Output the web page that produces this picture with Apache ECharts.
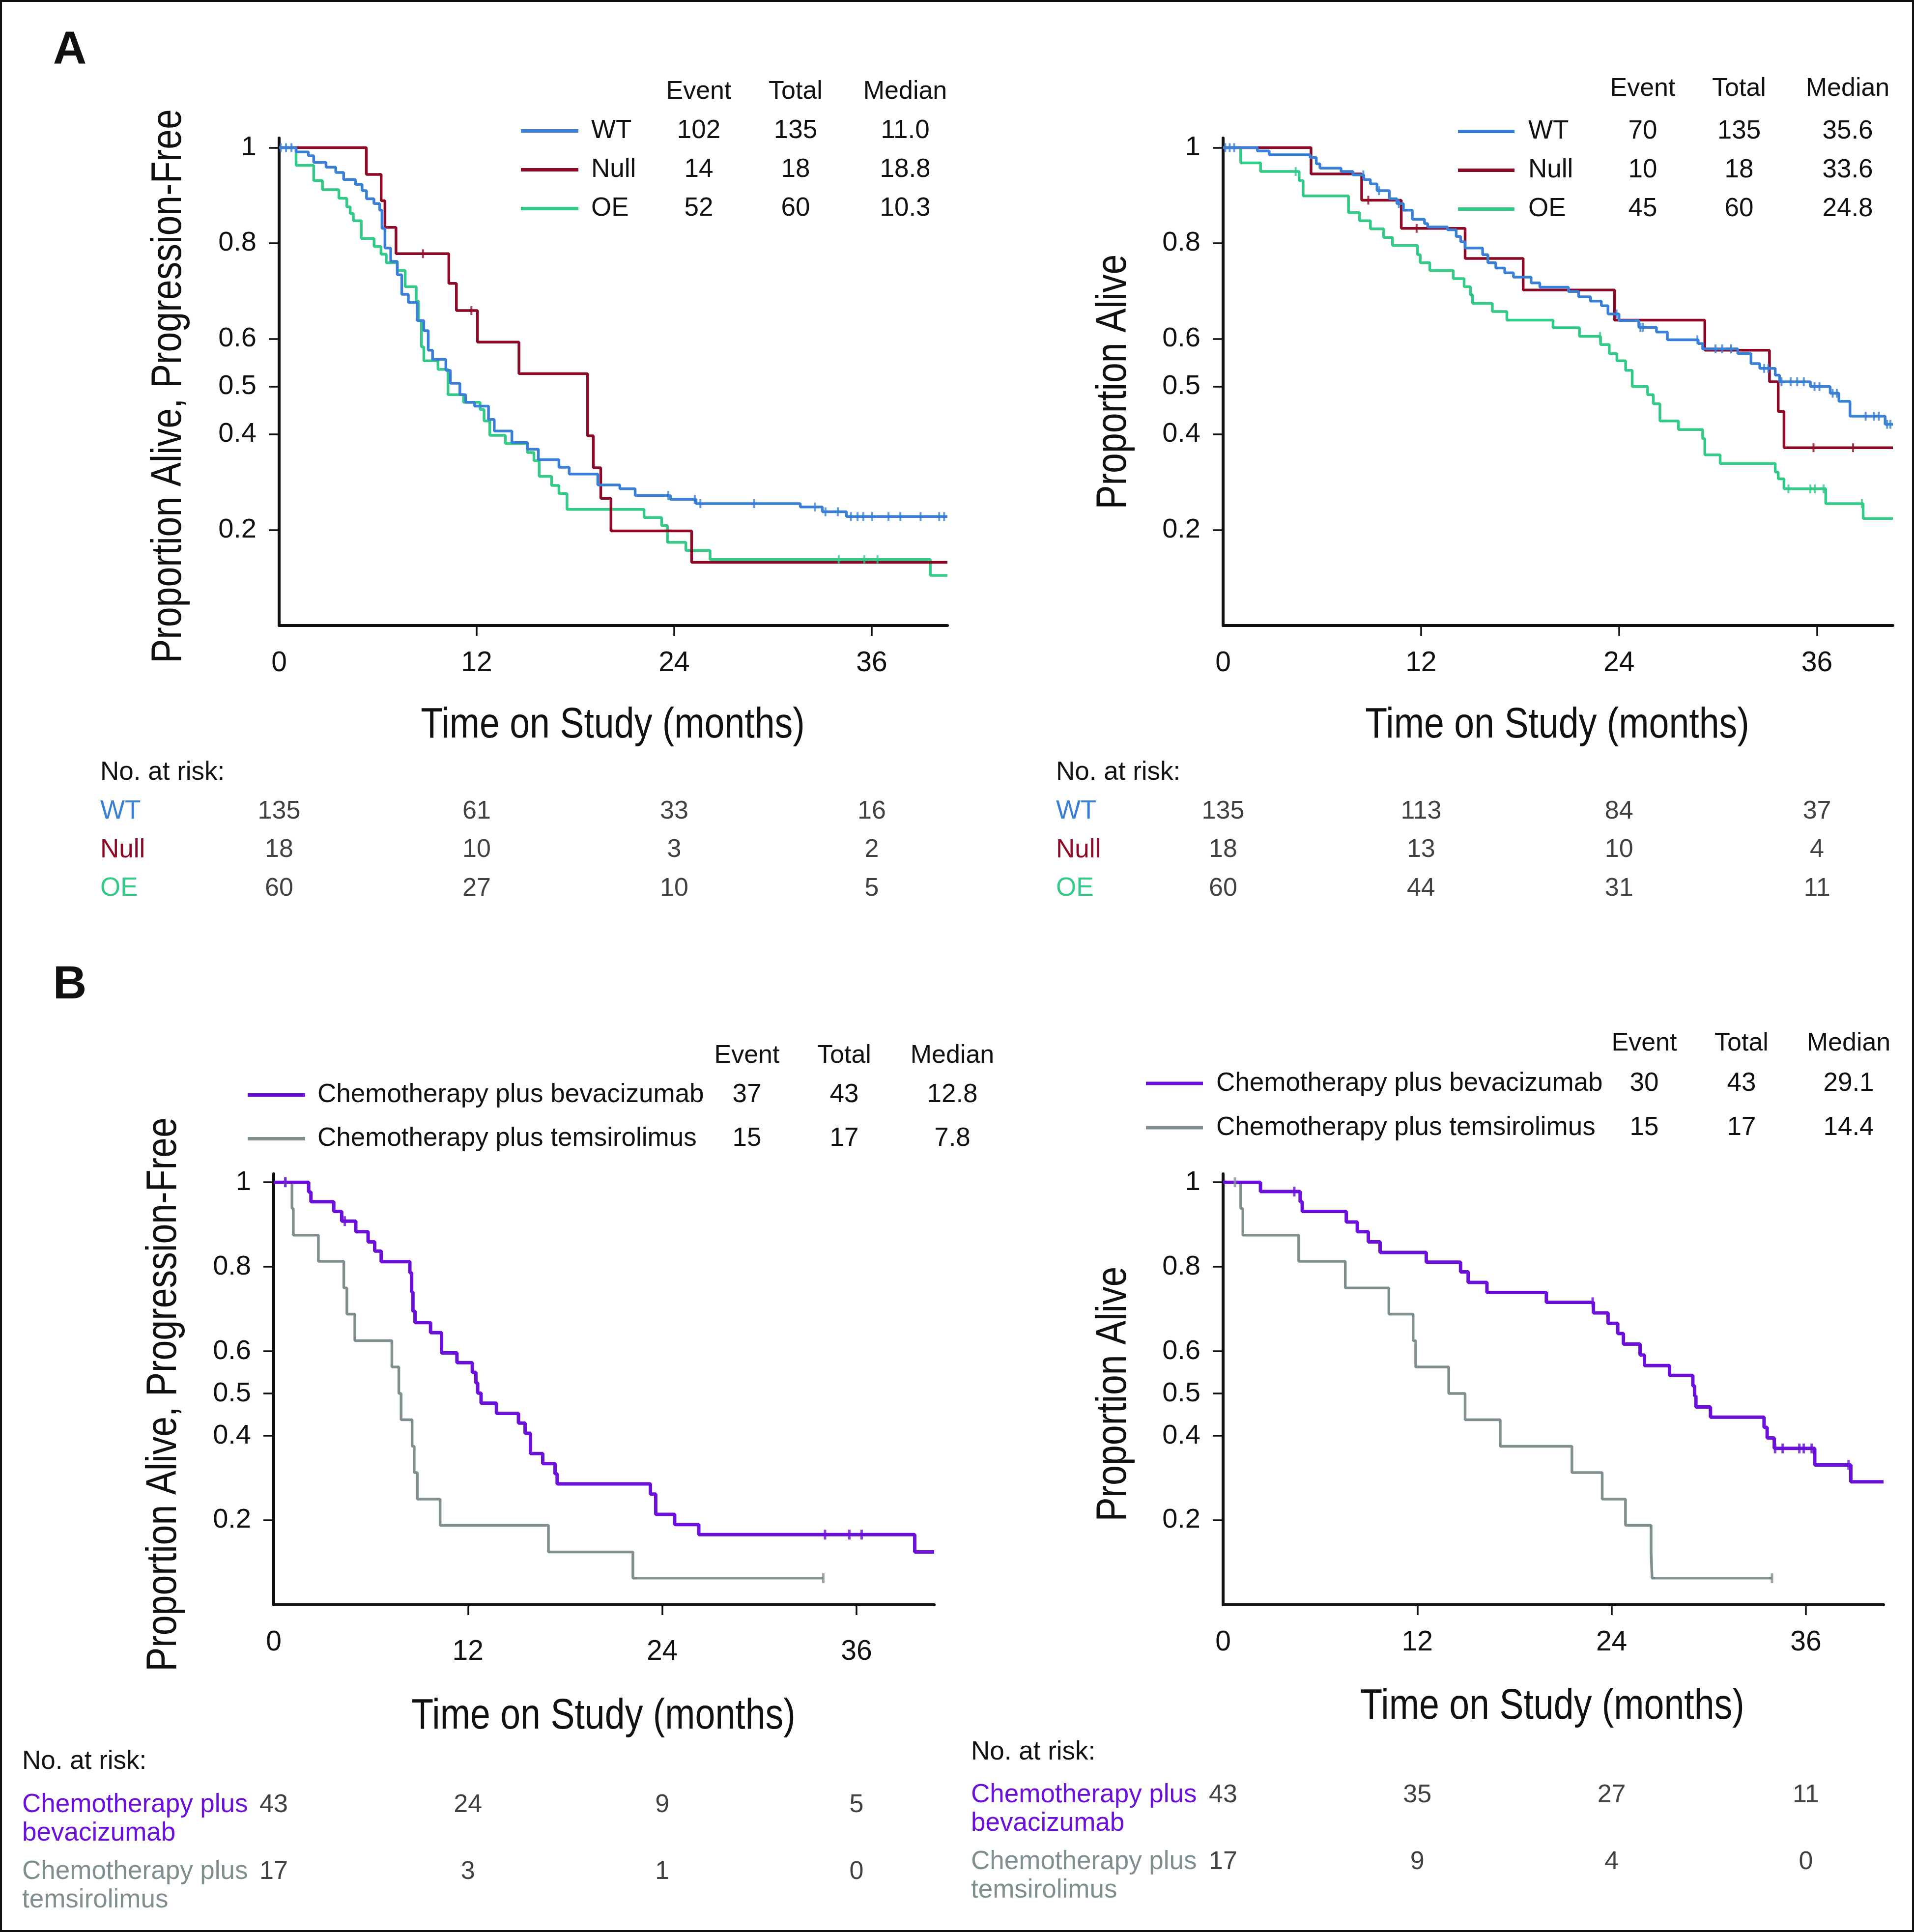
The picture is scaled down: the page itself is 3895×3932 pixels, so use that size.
<!DOCTYPE html>
<html><head><meta charset="utf-8">
<script src="https://cdn.jsdelivr.net/npm/echarts@6/dist/echarts.min.js"></script>
<style>html,body{margin:0;padding:0;background:#fff}#c{width:3895px;height:3932px}</style>
</head><body><div id="c"></div>
<script>
// ================= DATA =================
const xTicks = [0, 12, 24, 36];
const yTicks = [0.2, 0.4, 0.5, 0.6, 0.8, 1];
const riskTimes = [0, 12, 24, 36];
const xTitle = 'Time on Study (months)';
const yTitlePfs = 'Proportion Alive, Progression-Free';
const yTitleOs = 'Proportion Alive';

// ---- Panel A : groups ----
const groupNames = ['WT', 'Null', 'OE'];
const pfsEvents = [102, 14, 52];
const pfsTotals = [135, 18, 60];
const pfsMedians = ['11.0', '18.8', '10.3'];
const osEvents = [70, 10, 45];
const osTotals = [135, 18, 60];
const osMedians = ['35.6', '33.6', '24.8'];

// PFS curves [month, proportion]
const wtPfs = [[0,1],[1.03,0.991],[1.78,0.983],[2.1,0.969],[2.85,0.959],[3.44,0.948],[3.92,0.933],[4.64,0.923],[5.04,0.910],[5.31,0.893],[5.76,0.883],[6.11,0.869],[6.25,0.831],[6.43,0.790],[6.78,0.762],[7.18,0.734],[7.45,0.693],[7.85,0.676],[8.39,0.638],[8.79,0.617],[9.06,0.576],[9.32,0.557],[10.13,0.534],[10.4,0.507],[10.98,0.483],[11.33,0.467],[11.87,0.459],[12.72,0.431],[13.07,0.407],[14.14,0.383],[15.08,0.369],[15.75,0.347],[17.0,0.331],[17.62,0.317],[19.36,0.294],[20.7,0.286],[21.63,0.272],[23.77,0.264],[25.33,0.255],[31.66,0.248],[33.0,0.238],[34.47,0.228],[40.6,0.228]];
const wtPfsCensor = [0.1,0.42,0.75,23.64,25.25,25.59,28.85,32.55,33.19,33.94,34.74,35.14,35.49,36.03,37.02,37.74,38.97,40.1,40.4];
const nullPfs = [[0,1],[5.3,0.944],[6.2,0.889],[6.43,0.833],[7.1,0.778],[10.31,0.716],[10.77,0.659],[12.05,0.593],[14.57,0.527],[18.74,0.397],[19.09,0.330],[19.54,0.266],[20.16,0.198],[25.06,0.132],[40.6,0.132]];
const nullPfsCensor = [8.74, 11.68];
const oePfs = [[0,1],[1.03,0.963],[2.1,0.931],[2.63,0.912],[3.63,0.894],[4.11,0.876],[4.32,0.862],[4.51,0.847],[4.99,0.810],[5.77,0.793],[6.19,0.777],[6.51,0.759],[7.18,0.743],[7.66,0.709],[8.33,0.679],[8.47,0.638],[8.65,0.583],[8.79,0.554],[9.65,0.536],[10.26,0.483],[11.2,0.467],[12.21,0.452],[12.45,0.428],[12.8,0.398],[13.74,0.381],[15.08,0.362],[15.48,0.345],[15.8,0.312],[16.55,0.293],[17.0,0.276],[17.49,0.243],[22.17,0.226],[23.24,0.209],[23.59,0.174],[24.71,0.157],[26.18,0.138],[39.56,0.105],[40.6,0.105]];
const oePfsCensor = [34.0, 35.55, 36.35];

// OS curves
const wtOs = [[0,1],[2.08,0.993],[2.8,0.985],[5.28,0.979],[5.65,0.966],[5.87,0.957],[7.15,0.950],[7.87,0.943],[8.53,0.933],[8.93,0.924],[9.33,0.910],[10.08,0.893],[10.53,0.883],[10.93,0.869],[11.47,0.850],[12.21,0.841],[12.4,0.834],[13.6,0.828],[14.13,0.814],[14.4,0.803],[14.67,0.790],[15.73,0.776],[16.05,0.759],[16.53,0.748],[17.07,0.738],[17.6,0.729],[18.67,0.717],[19.2,0.708],[20.93,0.699],[21.55,0.688],[22.27,0.679],[22.93,0.669],[23.33,0.652],[24.0,0.638],[25.2,0.624],[26.27,0.614],[26.93,0.598],[28.8,0.590],[29.07,0.579],[31.2,0.569],[32.0,0.548],[32.53,0.538],[33.47,0.524],[33.73,0.510],[35.6,0.500],[36.8,0.486],[37.33,0.469],[38.0,0.438],[40.13,0.421],[40.6,0.421]];
const wtOsCensor = [0.13,0.4,0.67,8.5,9.45,10.65,23.85,25.3,25.45,28.75,29.85,30.25,30.8,32.8,33.05,33.85,34.4,34.8,35.2,35.85,36.15,36.95,37.2,38.95,39.45,39.75,40.25,40.45];
const nullOs = [[0,1],[5.33,0.945],[8.4,0.890],[10.8,0.831],[14.67,0.768],[18.19,0.702],[23.73,0.639],[29.2,0.576],[33.12,0.510],[33.65,0.448],[34.0,0.372],[40.6,0.372]];
const nullOsCensor = [8.8, 11.73, 35.79, 38.19];
const oeOs = [[0,1],[1.07,0.968],[2.27,0.950],[4.61,0.931],[4.85,0.899],[7.6,0.864],[8.27,0.847],[8.93,0.830],[9.73,0.812],[10.27,0.795],[11.79,0.776],[11.95,0.759],[12.53,0.743],[13.95,0.726],[14.61,0.709],[14.99,0.692],[15.12,0.674],[16.32,0.657],[17.2,0.639],[20.0,0.623],[21.6,0.605],[22.88,0.588],[23.41,0.569],[23.87,0.554],[24.4,0.534],[24.8,0.500],[25.73,0.483],[26.08,0.464],[26.48,0.428],[27.6,0.410],[29.07,0.391],[29.2,0.357],[30.13,0.339],[33.47,0.321],[33.65,0.307],[34.0,0.286],[36.53,0.255],[38.8,0.224],[40.6,0.224]];
const oeOsCensor = [4.4, 22.85, 34.27, 35.6, 35.87, 36.4, 38.72];

// number at risk, panel A
const wtPfsRisk = [135, 61, 33, 16];
const nullPfsRisk = [18, 10, 3, 2];
const oePfsRisk = [60, 27, 10, 5];
const wtOsRisk = [135, 113, 84, 37];
const nullOsRisk = [18, 13, 10, 4];
const oeOsRisk = [60, 44, 31, 11];

// ---- Panel B : treatment arms ----
const armNames = ['Chemotherapy plus bevacizumab', 'Chemotherapy plus temsirolimus'];
const armRiskLabels = ['Chemotherapy plus\nbevacizumab', 'Chemotherapy plus\ntemsirolimus'];
const armPfsEvents = [37, 15];
const armPfsTotals = [43, 17];
const armPfsMedians = ['12.8', '7.8'];
const armOsEvents = [30, 15];
const armOsTotals = [43, 17];
const armOsMedians = ['29.1', '14.4'];

const bevPfs = [[0,1],[2.16,0.977],[2.3,0.954],[3.71,0.931],[4.2,0.908],[5.07,0.883],[5.83,0.859],[6.24,0.837],[6.64,0.812],[8.41,0.786],[8.52,0.740],[8.6,0.695],[8.73,0.668],[9.69,0.644],[10.37,0.596],[11.32,0.573],[12.27,0.550],[12.49,0.525],[12.6,0.501],[12.81,0.477],[13.76,0.453],[15.12,0.430],[15.53,0.406],[15.86,0.358],[16.62,0.334],[17.38,0.310],[17.51,0.286],[23.27,0.262],[23.6,0.214],[24.77,0.190],[26.26,0.166],[39.6,0.125],[40.8,0.125]];
const bevPfsCensor = [0.72, 4.39, 34.06, 35.56, 36.32];
const temPfs = [[0,1],[1.13,0.938],[1.21,0.875],[2.76,0.813],[4.33,0.75],[4.52,0.688],[5.01,0.625],[7.3,0.563],[7.73,0.5],[7.87,0.438],[8.55,0.375],[8.68,0.313],[8.87,0.25],[10.28,0.188],[16.97,0.125],[22.19,0.063],[33.95,0.063]];
const temPfsCensor = [0.72, 33.95];
const bevOs = [[0,1],[2.31,0.978],[4.76,0.954],[4.89,0.931],[7.61,0.906],[8.29,0.883],[8.97,0.859],[9.7,0.834],[12.55,0.811],[14.67,0.788],[15.14,0.763],[16.3,0.739],[19.97,0.716],[22.88,0.691],[23.78,0.666],[24.38,0.642],[24.73,0.617],[25.76,0.591],[26.03,0.566],[27.58,0.543],[29.02,0.518],[29.13,0.494],[29.21,0.468],[30.11,0.444],[33.42,0.420],[33.61,0.395],[34.05,0.370],[36.55,0.331],[38.78,0.291],[40.8,0.291]];
const bevOsCensor = [4.4, 22.83, 34.1, 34.57, 35.6, 35.87, 36.36, 38.64];
const temOs = [[0,1],[1.09,0.938],[1.22,0.875],[4.67,0.813],[7.55,0.75],[10.24,0.688],[11.74,0.625],[11.9,0.563],[13.94,0.5],[14.95,0.438],[17.12,0.375],[21.55,0.313],[23.42,0.25],[24.86,0.188],[26.44,0.125],[26.5,0.063],[33.91,0.063]];
const temOsCensor = [0.73, 33.91];

const bevPfsRisk = [43, 24, 9, 5];
const temPfsRisk = [17, 3, 1, 0];
const bevOsRisk = [43, 35, 27, 11];
const temOsRisk = [17, 9, 4, 0];

// ================= STYLE / LAYOUT =================
const SANS = '"Liberation Sans", Arial, Helvetica, sans-serif';
const INK = '#111111';
const COL = { WT: '#3a7fd6', Null: '#8c0a26', OE: '#33c987', bev: '#6b10d8', tem: '#7f8f8f' };
const NARROW_SCALE = 0.845;   // condensed look for axis titles
const TXT = 53;

const grids = [
  { left: 568,  top: 281,  width: 1360, height: 992 },  // 0 A PFS
  { left: 2489, top: 281,  width: 1363, height: 992 },  // 1 A OS
  { left: 557,  top: 2389, width: 1344, height: 877 },  // 2 B PFS
  { left: 2489, top: 2389, width: 1344, height: 877 },  // 3 B OS
  { left: 568,  top: 1612, width: 1360, height: 236 },  // 4 risk A PFS
  { left: 2489, top: 1612, width: 1363, height: 236 },  // 5 risk A OS
  { left: 557,  top: 3635, width: 1344, height: 271 },  // 6 risk B PFS
  { left: 2489, top: 3615, width: 1344, height: 271 }   // 7 risk B OS
];
const xMax = [40.6, 40.6, 40.8, 40.8];

function survAt(curve, t) {
  let s = curve[0][1];
  for (const p of curve) { if (p[0] <= t) s = p[1]; else break; }
  return s;
}

function plotX(i, quirk) {
  const lab = { customValues: xTicks, margin: 49, fontSize: 57, fontFamily: SANS, color: INK };
  if (quirk) {
    lab.formatter = v => (v === 0 ? '{z|0}' : '{d|' + v + '}');
    lab.rich = { z: { fontSize: 57, fontFamily: SANS, color: INK, lineHeight: 57 },
                 d: { fontSize: 57, fontFamily: SANS, color: INK, lineHeight: 95 } };
  }
  return {
    type: 'value', gridIndex: i, min: 0, max: xMax[i], interval: 12,
    axisLine: { show: true, onZero: true, lineStyle: { color: INK, width: 6 } },
    axisTick: { show: true, customValues: [12, 24, 36], length: 21, lineStyle: { color: INK, width: 3.5 } },
    axisLabel: lab,
    splitLine: { show: false }
  };
}
function plotY(i) {
  return {
    type: 'value', gridIndex: i, min: 0, max: 1.02, interval: 0.1,
    axisLine: { show: true, onZero: false, lineStyle: { color: INK, width: 6 } },
    axisTick: { show: true, customValues: yTicks, length: 21, lineStyle: { color: INK, width: 3.5 } },
    axisLabel: { customValues: yTicks, margin: 46, fontSize: 56, fontFamily: SANS, color: INK,
                 formatter: v => (v === 1 ? '1' : v.toFixed(1)) },
    splitLine: { show: false }
  };
}
function riskX(i, m) { return { type: 'value', gridIndex: i, min: 0, max: m, show: false }; }
function riskY(i, cats, colors, margin, lh) {
  return {
    type: 'category', gridIndex: i, data: cats, inverse: true,
    axisLine: { show: false }, axisTick: { show: false }, splitLine: { show: false },
    axisLabel: { show: true, align: 'left', margin: margin, fontSize: TXT, fontFamily: SANS,
                 lineHeight: lh, color: (v, idx) => colors[idx] }
  };
}
function km(name, curve, color, width, gi) {
  return { type: 'line', name: name, xAxisIndex: gi, yAxisIndex: gi, step: 'end', symbol: 'none',
           data: curve, lineStyle: { color: color, width: width }, itemStyle: { color: color },
           animation: false, silent: true, z: 3 };
}
function cens(name, curve, times, color, gi, size) {
  return { type: 'scatter', name: name + ' censored', xAxisIndex: gi, yAxisIndex: gi, symbol: 'rect',
           symbolSize: size, data: times.map(t => [t, survAt(curve, t)]), itemStyle: { color: color },
           animation: false, silent: true, z: 4 };
}
function risk(name, gi, row, counts, dy) {
  return { type: 'scatter', name: name + ' at risk', xAxisIndex: gi, yAxisIndex: gi, symbolSize: 1,
           itemStyle: { color: 'rgba(0,0,0,0)' }, animation: false, silent: true,
           data: riskTimes.map((t, k) => [t, row, counts[k]]),
           label: { show: true, position: 'inside', offset: [0, dy], formatter: p => String(p.value[2]),
                    fontSize: 52, fontFamily: SANS, color: INK } };
}
function legendBox(names, ev, tot, med, left, top, iw, pad, nw, ew, tw, mw, lh) {
  const base = { fontSize: TXT, fontFamily: SANS, color: INK, lineHeight: lh };
  return {
    data: names, orient: 'vertical', left: left, top: top, padding: 0,
    itemWidth: iw, itemHeight: 7, itemGap: 0, icon: 'rect', selectedMode: false,
    formatter: n => { const k = names.indexOf(n); return '{n|' + n + '}{e|' + ev[k] + '}{t|' + tot[k] + '}{m|' + med[k] + '}'; },
    textStyle: Object.assign({}, base, { rich: {
      n: Object.assign({}, base, { width: nw, padding: [0, 0, 0, pad], align: 'left' }),
      e: Object.assign({}, base, { width: ew, align: 'center' }),
      t: Object.assign({}, base, { width: tw, align: 'center' }),
      m: Object.assign({}, base, { width: mw, align: 'center' }) } })
  };
}
function txt(text, x, y, extra) {
  return { type: 'text', x: x, y: y, silent: true,
           style: Object.assign({ text: text, fontSize: 52, fontFamily: SANS, fill: INK,
                                  align: 'center', verticalAlign: 'middle' }, extra || {}) };
}
function title(text, x, y, vertical) {
  return { type: 'text', x: x, y: y, silent: true, scaleX: NARROW_SCALE,
           rotation: vertical ? Math.PI / 2 : 0,
           style: { text: text, fontSize: 87, fontFamily: SANS, fill: INK, align: 'center', verticalAlign: 'middle' } };
}

const groupColors = [COL.WT, COL.Null, COL.OE];
const armColors = [COL.bev, COL.tem];

const option = {
  backgroundColor: '#ffffff',
  animation: false,
  grid: grids,
  xAxis: [plotX(0), plotX(1), plotX(2, true), plotX(3),
          riskX(4, xMax[0]), riskX(5, xMax[1]), riskX(6, xMax[2]), riskX(7, xMax[3])],
  yAxis: [plotY(0), plotY(1), plotY(2), plotY(3),
          riskY(4, groupNames, groupColors, 364, 58), riskY(5, groupNames, groupColors, 340, 58),
          riskY(6, armRiskLabels, armColors, 512, 58), riskY(7, armRiskLabels, armColors, 513, 58)],
  legend: [
    legendBox(groupNames, pfsEvents, pfsTotals, pfsMedians, 1060, 227, 117, 21, 144, 150, 244, 202, 79),
    legendBox(groupNames, osEvents, osTotals, osMedians, 2967, 228, 115, 23, 158, 150, 242, 200, 79),
    legendBox(armNames, armPfsEvents, armPfsTotals, armPfsMedians, 504, 2184, 117, 20, 799, 150, 246, 194, 89),
    legendBox(armNames, armOsEvents, armOsTotals, armOsMedians, 2332, 2160, 116, 22, 796, 150, 246, 190, 90)
  ],
  series: [
    km('OE', oePfs, COL.OE, 5.5, 0), km('Null', nullPfs, COL.Null, 5.5, 0), km('WT', wtPfs, COL.WT, 5.5, 0),
    cens('OE', oePfs, oePfsCensor, COL.OE, 0, [4, 18]), cens('Null', nullPfs, nullPfsCensor, COL.Null, 0, [4, 18]),
    cens('WT', wtPfs, wtPfsCensor, COL.WT, 0, [4, 18]),
    km('OE', oeOs, COL.OE, 5.5, 1), km('Null', nullOs, COL.Null, 5.5, 1), km('WT', wtOs, COL.WT, 5.5, 1),
    cens('OE', oeOs, oeOsCensor, COL.OE, 1, [4, 18]), cens('Null', nullOs, nullOsCensor, COL.Null, 1, [4, 18]),
    cens('WT', wtOs, wtOsCensor, COL.WT, 1, [4, 18]),
    km(armNames[1], temPfs, COL.tem, 5.5, 2), km(armNames[0], bevPfs, COL.bev, 7, 2),
    cens(armNames[1], temPfs, temPfsCensor, COL.tem, 2, [5, 20]), cens(armNames[0], bevPfs, bevPfsCensor, COL.bev, 2, [5, 20]),
    km(armNames[1], temOs, COL.tem, 5.5, 3), km(armNames[0], bevOs, COL.bev, 7, 3),
    cens(armNames[1], temOs, temOsCensor, COL.tem, 3, [5, 20]), cens(armNames[0], bevOs, bevOsCensor, COL.bev, 3, [5, 20]),
    risk('WT pfs', 4, 0, wtPfsRisk, 0), risk('Null pfs', 4, 1, nullPfsRisk, 0), risk('OE pfs', 4, 2, oePfsRisk, 0),
    risk('WT os', 5, 0, wtOsRisk, 0), risk('Null os', 5, 1, nullOsRisk, 0), risk('OE os', 5, 2, oeOsRisk, 0),
    risk('bev pfs', 6, 0, bevPfsRisk, -29), risk('tem pfs', 6, 1, temPfsRisk, -29),
    risk('bev os', 7, 0, bevOsRisk, -29), risk('tem os', 7, 1, temOsRisk, -29)
  ],
  graphic: { elements: [
    { type: 'rect', silent: true, shape: { x: 2, y: 2, width: 3891, height: 3928 },
      style: { fill: 'none', stroke: INK, lineWidth: 4 } },
    txt('A', 142, 104, { fontSize: 95, fontWeight: 'bold' }),
    txt('B', 142, 2006, { fontSize: 95, fontWeight: 'bold' }),
    title(xTitle, 1247, 1477), title(xTitle, 3169, 1477),
    title(xTitle, 1228, 3494), title(xTitle, 3159, 3474),
    title(yTitlePfs, 344, 786, true), title(yTitleOs, 2267, 777, true),
    title(yTitlePfs, 334, 2838, true), title(yTitleOs, 2267, 2837, true),
    txt('Event', 1422, 187), txt('Total', 1619, 187), txt('Median', 1842, 187),
    txt('Event', 3343, 181), txt('Total', 3539, 181), txt('Median', 3760, 181),
    txt('Event', 1520, 2149), txt('Total', 1718, 2149), txt('Median', 1938, 2149),
    txt('Event', 3346, 2124), txt('Total', 3544, 2124), txt('Median', 3762, 2124),
    txt('No. at risk:', 204, 1572, { align: 'left', fontSize: TXT }),
    txt('No. at risk:', 2149, 1572, { align: 'left', fontSize: TXT }),
    txt('No. at risk:', 45, 3585, { align: 'left', fontSize: TXT }),
    txt('No. at risk:', 1976, 3566, { align: 'left', fontSize: TXT })
  ] }
};

const chart = echarts.init(document.getElementById('c'), null, { renderer: 'canvas', width: 3895, height: 3932 });
chart.setOption(option);
</script>
</body></html>
